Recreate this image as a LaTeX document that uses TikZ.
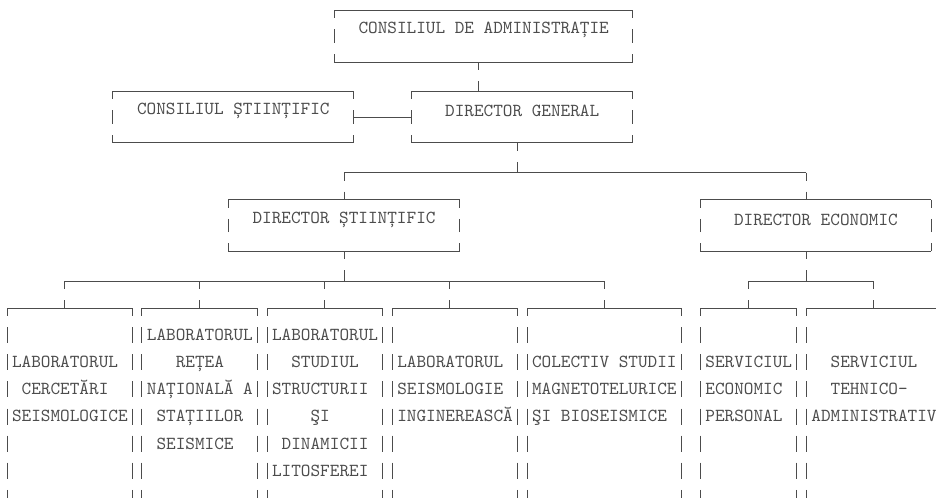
\documentclass[tikz,border=0pt]{standalone}
\usepackage{fontspec}
\newfontfamily\labfont{lmmono10-regular.otf}
\usetikzlibrary{fit,calc}

\colorlet{ink}{black!70}
\newcommand\monotext{\fontsize{13.757pt}{16pt}\selectfont\labfont}
\tikzset{
  hline/.style={draw=ink,line width=0.75pt},
  vline/.style={hline,dash pattern=on 12pt off 8.325pt,dash phase=6pt},
  orgbox/.style={inner sep=0pt,outer sep=0pt,font=\monotext,text=ink,text height=8.4pt,text depth=0pt},
  txtline/.style={inner sep=0pt,anchor=base west,font=\monotext,text=ink}
}

\begin{document}
\begin{tikzpicture}[x=7.2225pt,y=-20.325pt]
\useasboundingbox (-0.727,-0.369) rectangle (96.469,18.007);
\clip (-0.727,-0.369) rectangle (96.469,18.007);

\node[orgbox,fit={(34,0) (65,1.92)}] (CA) {CONSILIUL DE ADMINISTRAȚIE};
\node[orgbox,fit={(42,3) (65,4.9)}] (DG) {DIRECTOR GENERAL};
\node[orgbox,fit={(11,3) (36,4.9)}] (CS) {CONSILIUL ȘTIINȚIFIC};
\node[orgbox,fit={(23,7) (47,8.9)}] (DS) {DIRECTOR ȘTIINȚIFIC};
\node[orgbox,fit={(72,7) (96,8.9)}] (DE) {DIRECTOR ECONOMIC};

\foreach \b/\l/\r in {L1/0/13,L2/14/26,L3/27/39,L4/40/53,L5/54/70,S1/72/82,S2/83/97}
  \node[orgbox,fit={(\l,11) (\r,19.5)}] (\b) {};

\foreach \b in {CA,DG,CS,DS,DE}{
  \draw[hline] (\b.north west) -- (\b.north east);
  \draw[hline] (\b.south west) -- (\b.south east);
  \foreach \a/\m in {north west/west,south west/west,north east/east,south east/east}
    \draw[vline] (\b.\a) -- (\b.\m);
}
\foreach \b in {L1,L2,L3,L4,L5,S1,S2}{
  \draw[hline] (\b.north west) -- (\b.north east);
  \draw[vline] (\b.north west) -- (\b.south west);
  \draw[vline] (\b.north east) -- (\b.south east);
}

\coordinate (jA) at (49,0);
\coordinate (jG) at (53,6);
\coordinate (jE) at (83,6);
\coordinate (busS) at (35,10);
\coordinate (busE) at (83,10);

\draw[vline] (CA.south -| jA) -- (DG.north -| jA);
\draw[hline] (CS.east) -- (DG.west);
\draw[vline] (DG.south -| jG) -- (jG);
\draw[hline] (DS.north |- jG) -- (jE);
\draw[vline] (DS.north |- jG) -- (DS.north);
\draw[vline] (jE) -- (DE.north -| jE);
\draw[vline] (DS.south) -- (busS);
\draw[vline] (DE.south -| busE) -- (busE);

\foreach \b/\c in {L1/6,L2/20,L3/33,L4/46,L5/62,S1/77,S2/90}{
  \coordinate (d\b) at (\c,10);
  \draw[vline] (d\b) -- (\b.north -| d\b);
}
\draw[hline] (dL1) -- (dL5);
\draw[hline] (dS1) -- (dS2);

\foreach \b/\r/\t in {L1/2/LABORATORUL,L1/3/~CERCETĂRI,L1/4/SEISMOLOGICE,
    L2/1/LABORATORUL,L2/2/~~~REȚEA,L2/3/NAȚIONALĂ A,L2/4/~STAȚIILOR,L2/5/~SEISMICE,
    L3/1/LABORATORUL,L3/2/~~STUDIUL,L3/3/STRUCTURII,L3/4/~~~~ŞI,L3/5/~DINAMICII,L3/6/LITOSFEREI,
    L4/2/LABORATORUL,L4/3/SEISMOLOGIE,L4/4/INGINEREASCĂ,
    L5/2/COLECTIV STUDII,L5/3/MAGNETOTELURICE,L5/4/ŞI BIOSEISMICE,
    S1/2/SERVICIUL,S1/3/ECONOMIC,S1/4/PERSONAL,
    S2/2/~~SERVICIUL,S2/3/~~TEHNICO-,S2/4/ADMINISTRATIV}
  \node[txtline] (\b-\r) at ($(\b.north west)+(0.5,\r+0.2)$) {\t};
\end{tikzpicture}
\end{document}
